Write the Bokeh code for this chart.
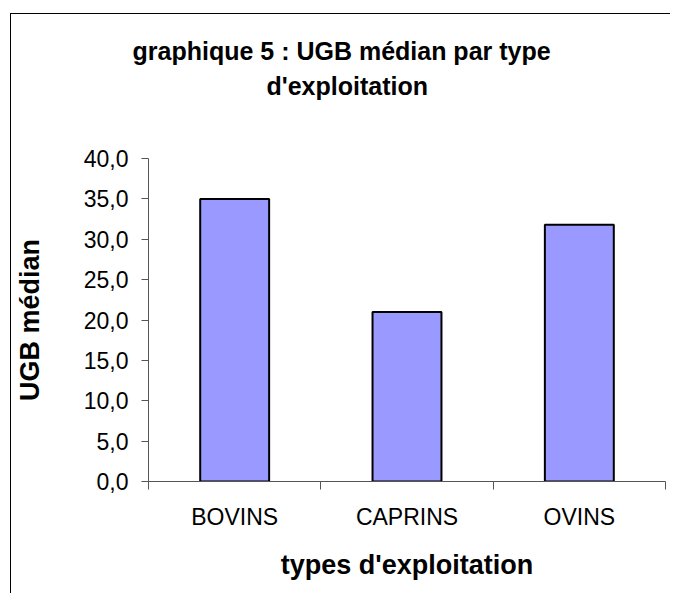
from bokeh.plotting import figure
from bokeh.models import FixedTicker, Range1d, Title
from bokeh.embed import file_html
from bokeh.resources import INLINE

categories = ["BOVINS", "CAPRINS", "OVINS"]
values = [35.0, 21.0, 31.8]
y_ticks = [0, 5, 10, 15, 20, 25, 30, 35, 40]
y_tick_labels = ["0,0", "5,0", "10,0", "15,0", "20,0", "25,0", "30,0", "35,0", "40,0"]
title_lines = ["graphique 5 : UGB médian par type", "d'exploitation"]

FONT = "Liberation Sans"

p = figure(width=660, height=580, output_backend="svg", toolbar_location=None,
           x_range=Range1d(0, len(categories)), y_range=Range1d(0, 40),
           min_border_left=135, min_border_right=6, min_border_top=144,
           min_border_bottom=113, title=None)
p.margin = (13, 0, 0, 10)
p.styles = {"border-top": "1px solid #000", "border-left": "1px solid #000"}

xs = [i + 0.5 for i in range(len(categories))]
p.vbar(x=xs, top=values, width=0.4, bottom=0, fill_color="#9999FF",
       line_color="black", line_width=2)

# blank spacer between the title block and the plot frame
p.add_layout(Title(text=" ", text_font_size="1px", standoff=53), "above")
title_offsets = [-16, 118]
for line, off in reversed(list(zip(title_lines, title_offsets))):
    p.add_layout(Title(text=line, align="left", offset=off, standoff=5,
                       text_font=FONT, text_font_size="25px", text_font_style="bold",
                       text_color="black"), "above")

p.xgrid.visible = False
p.ygrid.visible = False
p.outline_line_color = None
p.background_fill_color = "white"
p.border_fill_color = "white"

AX = "#555555"
# y axis
ya = p.yaxis[0]
ya.ticker = FixedTicker(ticks=y_ticks, minor_ticks=[])
ya.major_label_overrides = {t_: l for t_, l in zip(y_ticks, y_tick_labels)}
ya.major_tick_out = 7
ya.major_tick_in = 0
ya.major_tick_line_color = AX
ya.axis_line_color = AX
ya.major_label_standoff = 13
ya.major_label_text_font = FONT
ya.major_label_text_font_size = "23px"
ya.major_label_text_color = "black"
ya.axis_label = "UGB médian"
ya.axis_label_text_font = FONT
ya.axis_label_text_font_size = "27px"
ya.axis_label_text_font_style = "bold"
ya.axis_label_text_color = "black"
ya.axis_label_standoff = 36

# x axis
xa = p.xaxis[0]
xa.ticker = FixedTicker(ticks=xs, minor_ticks=list(range(len(categories) + 1)))
xa.major_label_overrides = {x_: c for x_, c in zip(xs, categories)}
xa.major_tick_line_color = None
xa.major_tick_out = 0
xa.major_tick_in = 0
xa.minor_tick_out = 8
xa.minor_tick_in = 0
xa.minor_tick_line_color = AX
xa.axis_line_color = AX
xa.major_label_standoff = 14
xa.major_label_text_font = FONT
xa.major_label_text_font_size = "23px"
xa.major_label_text_color = "black"
xa.axis_label = "types d'exploitation"
xa.axis_label_text_font = FONT
xa.axis_label_text_font_size = "27px"
xa.axis_label_text_font_style = "bold"
xa.axis_label_text_color = "black"
xa.axis_label_standoff = 17

open("out.html", "w").write(file_html(p, INLINE))
